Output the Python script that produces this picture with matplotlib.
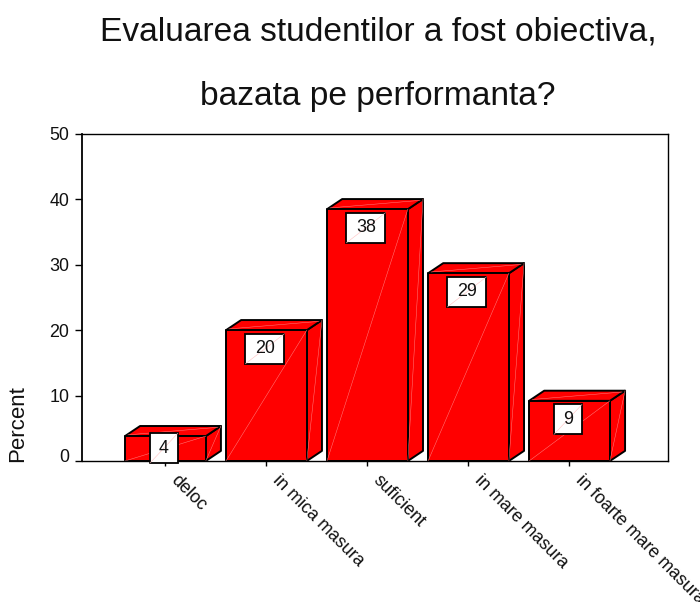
import matplotlib
matplotlib.use("Agg")
import matplotlib.pyplot as plt
from matplotlib.patches import Polygon, Rectangle
from matplotlib.transforms import ScaledTranslation

plt.rcParams['font.family'] = ['Liberation Sans', 'DejaVu Sans']

categories = ['deloc', 'in mica masura', 'suficient', 'in mare masura', 'in foarte mare masura']
heights = [3.8, 20.0, 38.5, 28.7, 9.2]
labels = ['4', '20', '38', '29', '9']
yticks = [0, 10, 20, 30, 40, 50]
title_lines = ['Evaluarea studentilor a fost obiectiva,', 'bazata pe performanta?']

W, H = 700, 602
fig = plt.figure(figsize=(W / 100, H / 100), dpi=100, facecolor='white')
L, R, T, B = 82, 668, 134, 461
ax = fig.add_axes([L / W, 1 - B / H, (R - L) / W, (B - T) / H])
ax.set_xlim(-0.82, 4.98)
ax.set_ylim(0, 50)

BW = 0.80      # bar width
DX, DY = 0.15, 1.55  # depth
RED = '#ff0000'
EDGE = '#000000'
SHEEN = '#ff8080'
FS = 12.9

for i, h in enumerate(heights):
    x0, x1 = i - BW / 2 + 0.005, i + BW / 2 + 0.005
    front = [(x0, 0), (x1, 0), (x1, h), (x0, h)]
    side = [(x1, 0), (x1 + DX, DY), (x1 + DX, h + DY), (x1, h)]
    top = [(x0, h), (x1, h), (x1 + DX, h + DY), (x0 + DX, h + DY)]
    for poly in (side, top, front):
        ax.add_patch(Polygon(poly, closed=True, fc=RED, ec=EDGE, lw=1.4, zorder=3, joinstyle='round'))
    # faint sheen diagonals
    ax.plot([x0, x1], [0, h], color=SHEEN, lw=0.35, zorder=3.5)
    ax.plot([x1, x1 + DX], [0, h + DY], color=SHEEN, lw=0.35, zorder=3.5)
    ax.plot([x0 + 0.03, x1 + DX - 0.03], [h + 0.2, h + DY - 0.2], color=SHEEN, lw=0.35, zorder=3.5)

    # value label box
    bw = (39 if len(labels[i]) > 1 else 28) / 101
    bh = 30 / 6.54
    btop = h - 0.55 if h > 5 else h + 0.45
    bx0 = i - bw / 2 - 0.01
    ax.add_patch(Rectangle((bx0, btop - bh), bw, bh, fc='white', ec=EDGE, lw=1.3,
                           zorder=4, clip_on=False))
    ax.plot([bx0, bx0 + bw], [btop - bh, btop], color='#ffc0c0', lw=0.4, zorder=4.2, clip_on=False)
    ax.text(bx0 + bw / 2, btop - bh / 2, labels[i], ha='center', va='center',
            fontsize=FS, color='#111111', zorder=5, clip_on=False)

for s in ax.spines.values():
    s.set_linewidth(1.0)
    s.set_color('black')
ax.spines['left'].set_linewidth(1.3)
ax.spines['bottom'].set_zorder(3.8)

ax.set_yticks(yticks)
ax.set_xticks(range(len(categories)))
ax.set_xticklabels([])
ax.tick_params(axis='y', length=5, width=1, labelsize=FS, pad=4, colors='black', labelcolor='#111111')
ax.tick_params(axis='x', length=3.5, width=1, colors='black')

# the zero label sits a little above its tick in the reference
zero_label = ax.get_yticklabels()[0]
zero_label.set_transform(zero_label.get_transform() + ScaledTranslation(0, 6 / 100, fig.dpi_scale_trans))

for i, c in enumerate(categories):
    ax.annotate(c, xy=(i, 0), xycoords='data', xytext=(9, -17), textcoords='offset pixels',
                rotation=-45, rotation_mode='anchor', ha='left', va='center',
                fontsize=FS, color='#111111', annotation_clip=False)

fig.text(18 / W, 1 - 424 / H, 'Percent', rotation=90, ha='center', va='center',
         fontsize=16, color='#111111')
fig.text(378 / W, 1 - 32 / H, title_lines[0], ha='center', va='center', fontsize=24.1, color='#111111')
fig.text(378 / W, 1 - 97 / H, title_lines[1], ha='center', va='center', fontsize=24.1, color='#111111')

fig.savefig('out.png', dpi=100, facecolor='white')
